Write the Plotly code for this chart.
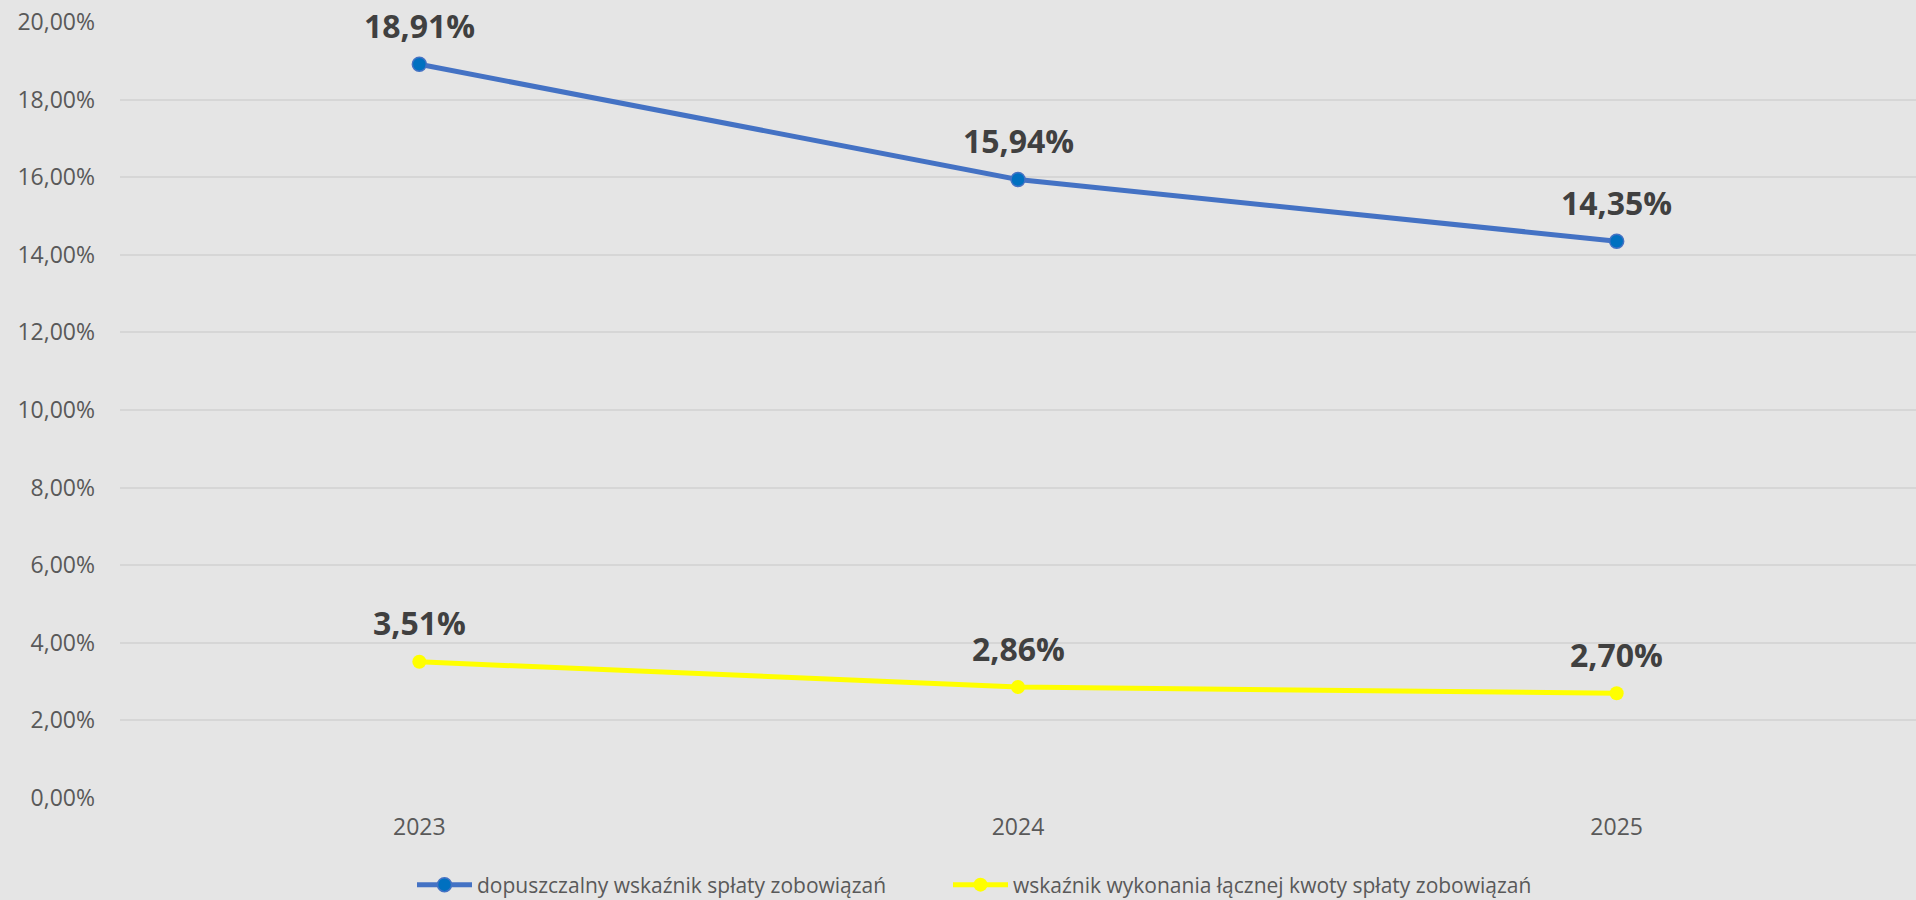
import plotly.graph_objects as go

years = ["2023", "2024", "2025"]
dopuszczalny = [18.91, 15.94, 14.35]
wykonanie = [3.51, 2.86, 2.70]
name_a = "dopuszczalny wskaźnik spłaty zobowiązań"
name_b = "wskaźnik wykonania łącznej kwoty spłaty zobowiązań"
y_ticks = [0, 2, 4, 6, 8, 10, 12, 14, 16, 18, 20]


def fmt(v):
    return f"{v:.2f}%".replace(".", ",")


fig = go.Figure()
fig.add_trace(go.Scatter(
    x=years, y=dopuszczalny, name=name_a, mode="lines+markers",
    line=dict(color="#4472C4", width=5),
    marker=dict(color="#0070C0", size=14, line=dict(color="#4472C4", width=1.5)),
    cliponaxis=False, legend="legend",
))
fig.add_trace(go.Scatter(
    x=years, y=wykonanie, name=name_b, mode="lines+markers",
    line=dict(color="#FFFF00", width=5),
    marker=dict(color="#FFFF00", size=14),
    cliponaxis=False, legend="legend2",
))

for series in (dopuszczalny, wykonanie):
    for i, yv in enumerate(series):
        fig.add_annotation(
            x=i, y=yv, xref="x", yref="y", text=fmt(yv), showarrow=False,
            xanchor="center", yanchor="middle", yshift=39,
            font=dict(family="Open Sans", size=32, color="#404040", weight="bold"),
        )

legend_common = dict(
    orientation="h", xref="container", yref="container",
    xanchor="left", y=1 - 885 / 900, yanchor="middle",
    font=dict(family="Open Sans", size=21, color="#595959"),
    bgcolor="rgba(0,0,0,0)", itemwidth=55,
)

fig.update_layout(
    width=1916, height=900,
    margin=dict(l=120, r=0, t=22, b=102),
    paper_bgcolor="#E5E5E5", plot_bgcolor="#E5E5E5",
    font=dict(family="Open Sans", color="#595959"),
    showlegend=True,
    legend=dict(x=412 / 1916, **legend_common),
    legend2=dict(x=948 / 1916, **legend_common),
    xaxis=dict(
        type="category", range=[-0.5, 2.5], showgrid=False, zeroline=False,
        showline=False, tickfont=dict(size=23, color="#595959"),
        ticklabelstandoff=13,
    ),
    yaxis=dict(
        range=[0, 20], tickvals=y_ticks, ticktext=[fmt(v) for v in y_ticks],
        showgrid=True, gridcolor="#D6D6D6", gridwidth=1.5, zeroline=False,
        showline=False, tickfont=dict(size=23, color="#595959"),
        ticklabelstandoff=24,
    ),
)

fig.write_html(
    "out.html",
    config={"displayModeBar": False},
    post_script="document.body.style.margin='0';document.body.style.padding='0';document.body.style.overflow='hidden';",
)
